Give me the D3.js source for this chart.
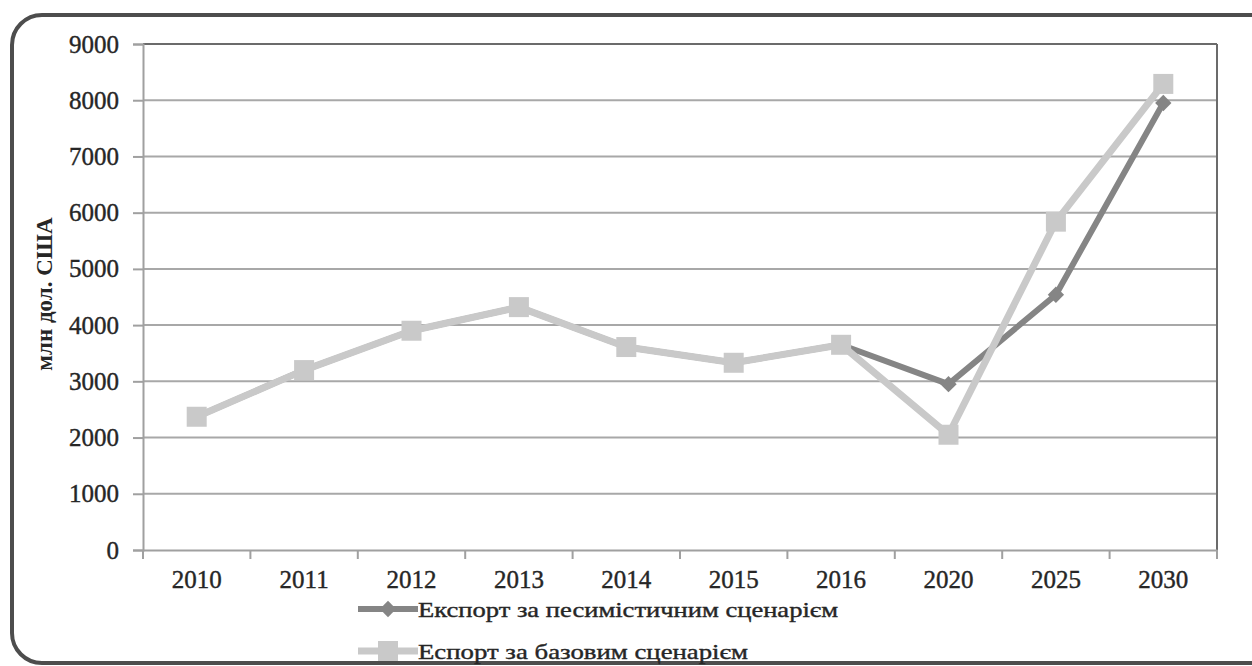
<!DOCTYPE html>
<html>
<head>
<meta charset="utf-8">
<script src="https://cdn.jsdelivr.net/npm/d3@7"></script>
<style>
  html, body { margin: 0; padding: 0; background: #fff; }
  svg { display: block; }
  text { font-family: "Liberation Serif", "Times New Roman", serif; fill: #262626; }
</style>
</head>
<body>
<svg id="chart" width="1252" height="666"></svg>
<script>
// data
const years = ['2010', '2011', '2012', '2013', '2014', '2015', '2016', '2020', '2025', '2030'];
const pessimistic = [2370, 3200, 3900, 4320, 3610, 3330, 3650, 2950, 4540, 7950];
const base = [2370, 3200, 3900, 4320, 3610, 3330, 3650, 2050, 5840, 8290];
const yTicks = [0, 1000, 2000, 3000, 4000, 5000, 6000, 7000, 8000, 9000];
const seriesNames = ['Експорт за песимістичним сценарієм', 'Еспорт за базовим сценарієм'];
const yTitle = 'млн дол. США';

const darkGrey = '#858585';
const lightGrey = '#c9c9c9';

let svg = d3.select('#chart');

// outer rounded frame
svg.append('rect')
    .attr('x', 12).attr('y', 15)
    .attr('width', 1270).attr('height', 648)
    .attr('rx', 30).attr('ry', 30)
    .attr('fill', 'none')
    .attr('stroke', '#4d4d4d')
    .attr('stroke-width', 4);

let plotLeft = 143, plotRight = 1217, plotTop = 44, plotBottom = 550;

let x = d3.scaleBand().domain(years).range([plotLeft, plotRight]);
let y = d3.scaleLinear().domain([0, 9000]).range([plotBottom, plotTop]);

// gridlines
svg.append('g')
    .selectAll('line')
    .data(yTicks.filter(d => d > 0))
    .enter()
    .append('line')
    .attr('x1', plotLeft).attr('x2', plotRight)
    .attr('y1', d => y(d)).attr('y2', d => y(d))
    .attr('stroke', d => d === 9000 ? '#6b6b6b' : '#a8a8a8')
    .attr('stroke-width', 2);

// right border of plot
svg.append('line')
    .attr('x1', plotRight).attr('x2', plotRight)
    .attr('y1', plotTop).attr('y2', plotBottom)
    .attr('stroke', '#6b6b6b').attr('stroke-width', 2);

// y axis
let yAxis = svg.append('g')
    .attr('transform', 'translate(' + plotLeft + ',0)')
    .call(d3.axisLeft(y).tickValues(yTicks).tickFormat(d3.format('d')).tickSize(10).tickPadding(14));
yAxis.select('.domain').attr('stroke', '#a0a0a0').attr('stroke-width', 2);
yAxis.selectAll('.tick line').attr('stroke', '#a0a0a0').attr('stroke-width', 2);
yAxis.selectAll('text')
    .attr('font-size', 25)
    .attr('font-family', '"Liberation Serif", serif')
    .attr('fill', '#262626')
    .attr('stroke', '#262626').attr('stroke-width', 0.4);

// x axis
let xAxis = svg.append('g')
    .attr('transform', 'translate(0,' + plotBottom + ')')
    .call(d3.axisBottom(x).tickSize(0).tickPadding(20));
xAxis.select('.domain').attr('stroke', '#a0a0a0').attr('stroke-width', 2);
xAxis.selectAll('text')
    .attr('font-size', 25)
    .attr('font-family', '"Liberation Serif", serif')
    .attr('fill', '#262626')
    .attr('stroke', '#262626').attr('stroke-width', 0.4);

// x tick marks on category boundaries
let bounds = years.map(d => x(d)).concat([x.range()[1]]);
svg.append('g')
    .selectAll('line')
    .data(bounds)
    .enter()
    .append('line')
    .attr('x1', d => d).attr('x2', d => d)
    .attr('y1', plotBottom).attr('y2', plotBottom + 9)
    .attr('stroke', '#a0a0a0').attr('stroke-width', 2);

// y title
svg.append('text')
    .attr('transform', 'translate(52,' + ((plotTop + plotBottom) / 2 - 3) + ') rotate(-90)')
    .attr('text-anchor', 'middle')
    .attr('font-size', 23)
    .attr('font-weight', 'bold')
    .text(yTitle);

// lines
let line = d3.line()
    .x((d, i) => x(years[i]) + x.bandwidth() / 2)
    .y(d => y(d));

svg.append('path')
    .datum(pessimistic)
    .attr('d', line)
    .attr('fill', 'none')
    .attr('stroke', darkGrey)
    .attr('stroke-width', 6)
    .attr('stroke-linejoin', 'round');

svg.append('path')
    .datum(base)
    .attr('d', line)
    .attr('fill', 'none')
    .attr('stroke', lightGrey)
    .attr('stroke-width', 7)
    .attr('stroke-linejoin', 'round');

let diamond = d3.symbol().type(d3.symbolDiamond2).size(170);
let square = d3.symbol().type(d3.symbolSquare).size(400);

// markers
svg.append('g')
    .selectAll('path')
    .data(pessimistic)
    .enter()
    .append('path')
    .attr('d', diamond)
    .attr('transform', (d, i) => 'translate(' + (x(years[i]) + x.bandwidth() / 2) + ',' + y(d) + ')')
    .attr('fill', darkGrey);

svg.append('g')
    .selectAll('path')
    .data(base)
    .enter()
    .append('path')
    .attr('d', square)
    .attr('transform', (d, i) => 'translate(' + (x(years[i]) + x.bandwidth() / 2) + ',' + y(d) + ')')
    .attr('fill', lightGrey);

// legend
let legend = [
    { name: seriesNames[0], color: darkGrey, sym: diamond, width: 6, y: 609, len: 420 },
    { name: seriesNames[1], color: lightGrey, sym: square, width: 7, y: 651, len: 330 }
];

let lg = svg.append('g')
    .selectAll('g')
    .data(legend)
    .enter()
    .append('g')
    .attr('transform', d => 'translate(358,' + d.y + ')');

lg.append('line')
    .attr('x1', 0).attr('x2', 60)
    .attr('stroke', d => d.color)
    .attr('stroke-width', d => d.width);

lg.append('path')
    .attr('d', d => d.sym())
    .attr('transform', 'translate(30,0)')
    .attr('fill', d => d.color);

lg.append('text')
    .attr('x', 60)
    .attr('dy', '0.35em')
    .attr('font-size', 22)
    .attr('stroke', '#262626').attr('stroke-width', 0.4)
    .attr('textLength', d => d.len)
    .attr('lengthAdjust', 'spacingAndGlyphs')
    .text(d => d.name);
</script>
</body>
</html>
